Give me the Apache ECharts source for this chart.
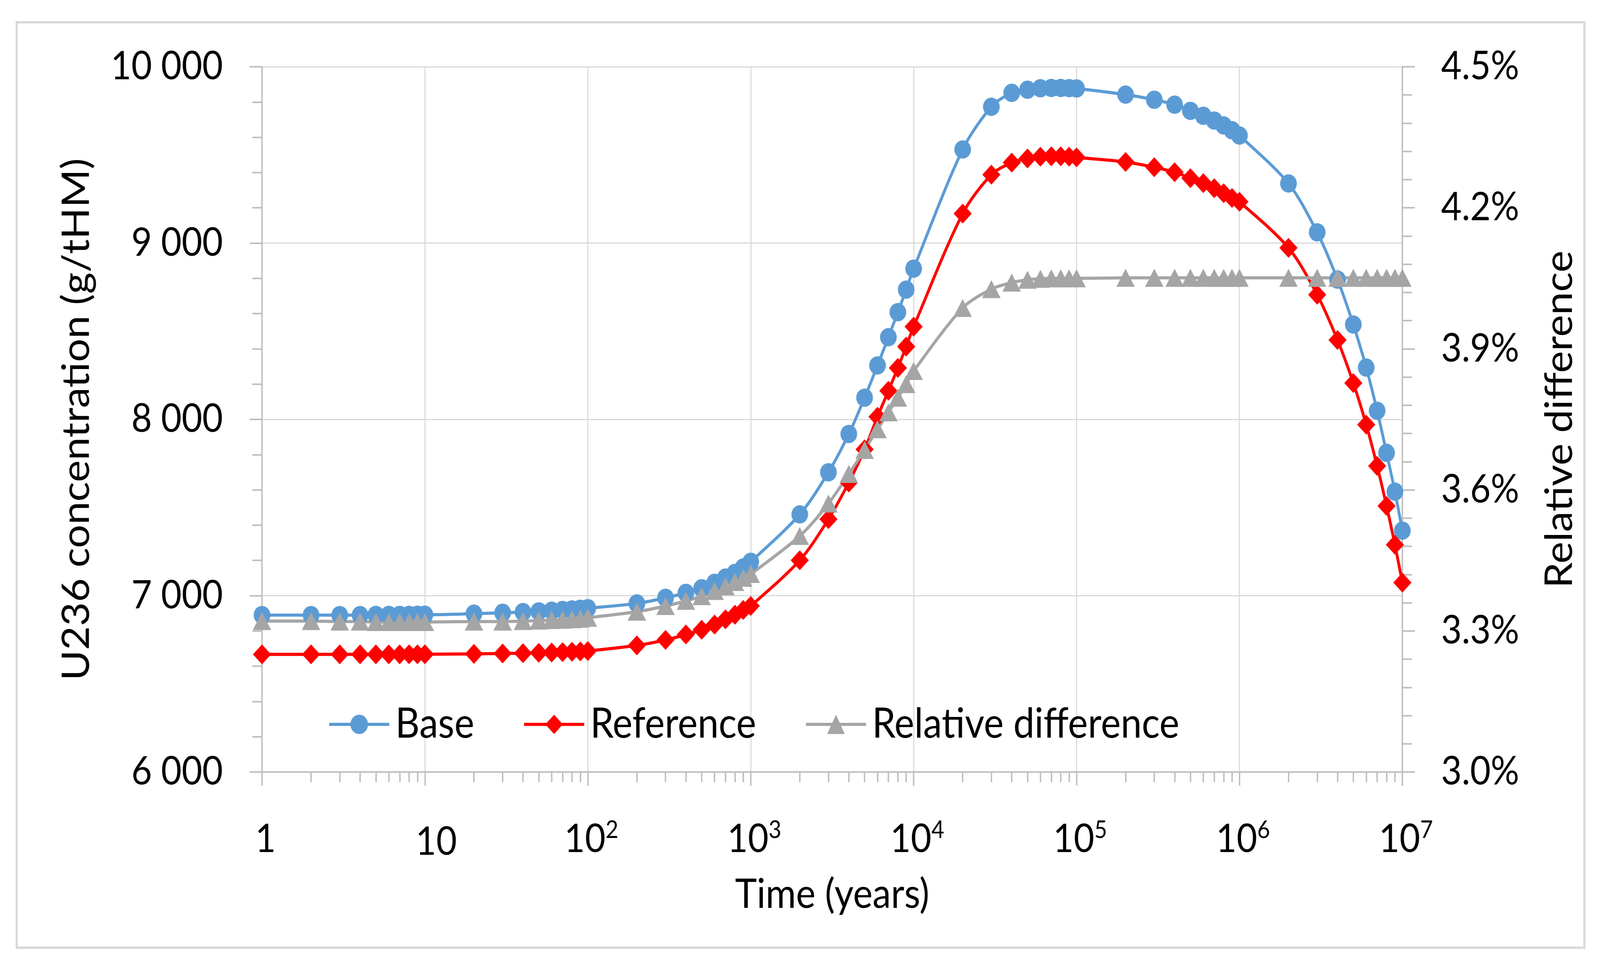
<!DOCTYPE html>
<html>
<head>
<meta charset="utf-8">
<script src="https://cdn.jsdelivr.net/npm/echarts@6.0.0/dist/echarts.min.js"></script>
<style>
html,body{margin:0;padding:0;background:#ffffff;overflow:hidden;}
#chart{width:4501px;height:2461px;transform-origin:0 0;}
</style>
</head>
<body>
<div id="chart"></div>
<script>
// ---- data ----
const years = [1,2,3,4,5,6,7,8,9,10,20,30,40,50,60,70,80,90,100,200,300,400,500,600,700,800,900,1000,2000,3000,4000,5000,6000,7000,8000,9000,10000,20000,30000,40000,50000,60000,70000,80000,90000,100000,200000,300000,400000,500000,600000,700000,800000,900000,1000000,2000000,3000000,4000000,5000000,6000000,7000000,8000000,9000000,10000000];

const baseValues = [6890,6890,6890,6890,6891,6891,6891,6891,6892,6892,
  6898,6903,6907,6911,6915,6919,6922,6926,6929,
  6956,6988,7016,7042,7073,7103,7129,7160,7192,
  7461,7700,7917,8123,8306,8466,8608,8736,8855,
  9531,9773,9852,9870,9878,9880,9880,9879,9877,
  9842,9813,9785,9750,9722,9695,9667,9640,9610,
  9338,9061,8793,8538,8294,8049,7810,7590,7369];

const referenceValues = [6667,6667,6667,6667,6667,6667,6667,6668,6668,6668,
  6670,6672,6674,6676,6678,6680,6682,6684,6686,
  6718,6749,6780,6807,6836,6866,6892,6919,6942,
  7201,7434,7642,7830,8015,8162,8292,8413,8526,
  9167,9388,9456,9480,9490,9492,9492,9490,9486,
  9460,9430,9402,9368,9340,9311,9283,9256,9234,
  8973,8707,8450,8206,7970,7736,7509,7289,7074];

const relDiffValues = [3.321,3.321,3.320,3.320,3.319,3.319,3.319,3.319,3.319,3.319,
  3.320,3.320,3.321,3.322,3.323,3.324,3.325,3.326,3.328,
  3.341,3.353,3.364,3.374,3.385,3.395,3.404,3.413,3.421,
  3.502,3.571,3.634,3.685,3.729,3.765,3.796,3.825,3.853,
  3.987,4.027,4.041,4.047,4.049,4.050,4.050,4.050,4.050,
  4.051,4.051,4.051,4.051,4.051,4.051,4.051,4.051,4.051,
  4.051,4.051,4.051,4.051,4.051,4.051,4.051,4.051,4.051];

const seriesNames = ['Base', 'Reference', 'Relative difference'];
const xTickLabels = ['1', '10', '10^2', '10^3', '10^4', '10^5', '10^6', '10^7'];
const leftAxisTitle = 'U236 concentration (g/tHM)';
const rightAxisTitle = 'Relative difference';
const xAxisTitle = 'Time (years)';

// ---- styling ----
const FONT = 'Lato';
const AXIS_COLOR = '#BFBFBF';
const GRID_COLOR = '#D9D9D9';
const COLORS = ['#5B9BD5', '#FF0000', '#A5A5A5'];

// fit the 4501x2461 design into whatever viewport the browser really gives
(function fit() {
  const el = document.getElementById('chart');
  const sx = (window.innerWidth || 4501) / 4501;
  const sy = (window.innerHeight || 2461) / 2461;
  if (Math.abs(sx - 1) > 0.001 || Math.abs(sy - 1) > 0.001) {
    el.style.transform = 'scale(' + sx + ',' + sy + ')';
  }
})();

// minor tick positions of the log axis (2..9 in each decade)
const minorTicks = [];
for (let k = 0; k < 7; k++) {
  for (let m = 2; m <= 9; m++) minorTicks.push(m * Math.pow(10, k));
}

function xLabel(v) {
  const idx = Math.round(Math.log10(v));
  const t = xTickLabels[idx];
  if (t === undefined) return '';
  if (t.indexOf('^') >= 0) {
    const p = t.split('^');
    return '{b|' + p[0] + '}{s|' + p[1] + '}';
  }
  if (idx === 1) return '{ten|' + t + '}';
  return '{b|' + t + '}';
}
function thousands(v) {
  return String(Math.round(v)).replace(/\B(?=(\d{3})+(?!\d))/g, ' ');
}

const chart = echarts.init(document.getElementById('chart'), null, {renderer: 'canvas', devicePixelRatio: 1, width: 4501, height: 2461});

const option = {
  animation: false,
  backgroundColor: '#ffffff',
  textStyle: {fontFamily: FONT, color: '#000'},
  graphic: [{
    type: 'rect', z: -10, silent: true,
    shape: {x: 47, y: 57, width: 4410, height: 2370},
    style: {fill: null, stroke: GRID_COLOR, lineWidth: 6}
  }],
  grid: {left: 737, right: 556, top: 171, bottom: 484, containLabel: false},
  legend: {
    left: 922, top: 1796, padding: 0,
    itemWidth: 169, itemHeight: 62, itemGap: 136,
    lineStyle: {width: 8},
    textStyle: {fontFamily: FONT, fontSize: 106, color: '#000', lineHeight: 118, padding: [0, 0, 0, 12]},
    data: seriesNames
  },
  xAxis: [{
    type: 'log', logBase: 10, min: 1, max: 10000000, position: 'bottom',
    name: xAxisTitle, nameLocation: 'middle', nameGap: 262,
    nameTextStyle: {fontFamily: FONT, fontSize: 104, color: '#000'},
    axisLine: {show: true, lineStyle: {color: AXIS_COLOR, width: 4}},
    axisTick: {show: true, length: 35, inside: false, lineStyle: {color: AXIS_COLOR, width: 4}},
    splitLine: {show: true, lineStyle: {color: GRID_COLOR, width: 3}},
    axisLabel: {
      margin: 118, padding: [0, 0, 0, 20], formatter: xLabel,
      rich: {
        b: {fontFamily: FONT, fontSize: 100, lineHeight: 110, color: '#000'},
        ten: {fontFamily: FONT, fontSize: 100, lineHeight: 110, color: '#000', padding: [14, 0, 0, 44]},
        s: {fontFamily: FONT, fontSize: 62, lineHeight: 62, color: '#000', verticalAlign: 'top'}
      }
    }
  }, {
    type: 'log', logBase: 10, min: 1, max: 10000000, position: 'bottom',
    axisLine: {show: false},
    axisLabel: {show: false},
    splitLine: {show: false},
    axisTick: {show: true, length: 26, inside: false, customValues: minorTicks, lineStyle: {color: AXIS_COLOR, width: 4}}
  }],
  yAxis: [{
    type: 'value', min: 6000, max: 10000, interval: 1000, position: 'left',
    name: leftAxisTitle, nameLocation: 'middle', nameGap: 468, nameRotate: 90,
    nameTextStyle: {fontFamily: FONT, fontSize: 106, color: '#000'},
    axisLine: {show: true, lineStyle: {color: AXIS_COLOR, width: 4}},
    axisTick: {show: true, length: 35, inside: false, lineStyle: {color: AXIS_COLOR, width: 4}},
    minorTick: {show: true, splitNumber: 5, length: 27, lineStyle: {color: AXIS_COLOR, width: 4}},
    splitLine: {show: true, lineStyle: {color: GRID_COLOR, width: 3}},
    axisLabel: {margin: 110, fontFamily: FONT, fontSize: 100, color: '#000', formatter: thousands}
  }, {
    type: 'value', min: 3.0, max: 4.5, interval: 0.3, position: 'right',
    name: rightAxisTitle, nameLocation: 'middle', nameGap: 390, nameRotate: 90,
    nameTextStyle: {fontFamily: FONT, fontSize: 106, color: '#000'},
    axisLine: {show: true, lineStyle: {color: AXIS_COLOR, width: 4}},
    axisTick: {show: true, length: 35, inside: false, lineStyle: {color: AXIS_COLOR, width: 4}},
    minorTick: {show: true, splitNumber: 5, length: 27, lineStyle: {color: AXIS_COLOR, width: 4}},
    splitLine: {show: false},
    axisLabel: {margin: 109, fontFamily: FONT, fontSize: 100, color: '#000',
      formatter: v => v.toFixed(1) + '%'}
  }],
  series: [{
    name: seriesNames[0], type: 'line', xAxisIndex: 0, yAxisIndex: 0,
    data: years.map((t, i) => [t, baseValues[i]]),
    smooth: 0.3, symbol: 'circle', symbolSize: 47,
    lineStyle: {color: COLORS[0], width: 8},
    itemStyle: {color: COLORS[0], borderWidth: 0}
  }, {
    name: seriesNames[1], type: 'line', xAxisIndex: 0, yAxisIndex: 0,
    data: years.map((t, i) => [t, referenceValues[i]]),
    smooth: 0.3, symbol: 'diamond', symbolSize: [51, 51],
    lineStyle: {color: COLORS[1], width: 8},
    itemStyle: {color: COLORS[1], borderWidth: 0}
  }, {
    name: seriesNames[2], type: 'line', xAxisIndex: 0, yAxisIndex: 1,
    data: years.map((t, i) => [t, relDiffValues[i]]),
    smooth: 0.3, symbol: 'triangle', symbolSize: [52, 46],
    lineStyle: {color: COLORS[2], width: 8},
    itemStyle: {color: COLORS[2], borderWidth: 0}
  }]
};
chart.setOption(option);
</script>
</body>
</html>
